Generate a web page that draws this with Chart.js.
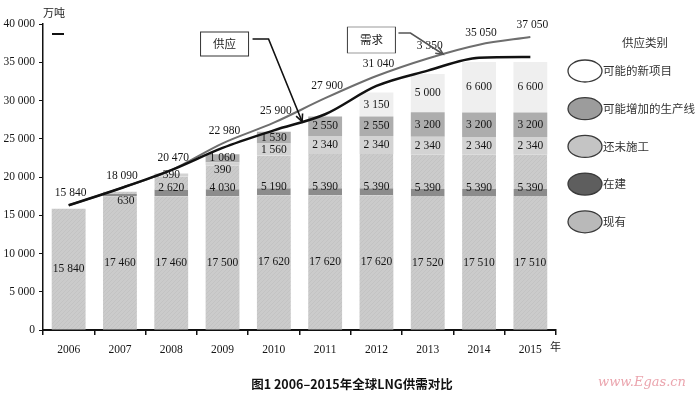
<!DOCTYPE html>
<html>
<head>
<meta charset="utf-8">
<script src="https://cdn.jsdelivr.net/npm/chart.js@4.4.0/dist/chart.umd.min.js"></script>
<style>
  html, body { margin: 0; padding: 0; background: #fff; }
  #contenedor { position: relative; width: 700px; height: 393px; }
</style>
</head>
<body>
<div id="contenedor"><canvas id="grafico" width="700" height="393"></canvas></div>
<script>
// datos (万吨)
const anios = ['2006', '2007', '2008', '2009', '2010', '2011', '2012', '2013', '2014', '2015'];
const existente = [15840, 17460, 17460, 17500, 17620, 17620, 17620, 17520, 17510, 17510];
const enConstruccion = [0, 630, 2620, 4030, 5190, 5390, 5390, 5390, 5390, 5390];
const sinIniciar = [0, 0, 390, 390, 1560, 2340, 2340, 2340, 2340, 2340];
const lineasPosibles = [0, 0, 0, 1060, 1530, 2550, 2550, 3200, 3200, 3200];
const proyectosNuevos = [0, 0, 0, 0, 0, 0, 3150, 5000, 6600, 6600];
const etiquetasTotal = ['15 840', '18 090', '20 470', '22 980', '25 900', '27 900', '31 040', '3 350', '35 050', '37 050'];
const oferta = [16300, 18500, 20900, 23800, 26100, 28200, 31900, 33900, 35600, 35700];
const demanda = [16300, 18500, 20900, 24400, 27100, 30300, 33200, 35500, 37300, 38300];
const nombresSerie = ['现有', '在建', '还未施工', '可能增加的生产线', '可能的新项目'];
const coloresLeyenda = ['#b9b9b9', '#5e5e5e', '#c4c4c4', '#9c9c9c', '#ffffff'];

const ctx = document.querySelector('#grafico').getContext('2d');
const serif = '"Liberation Serif", "DejaVu Serif", serif';
const cjk = '"Noto Sans CJK SC", sans-serif';

const conEspacios = v => String(v).replace(/\B(?=(\d{3})+(?!\d))/g, ' ');

function crearTrama(fondo, raya) {
    const c = document.createElement('canvas');
    c.width = 4; c.height = 4;
    const g = c.getContext('2d');
    g.fillStyle = fondo;
    g.fillRect(0, 0, 4, 4);
    g.fillStyle = raya;
    g.fillRect(0, 3, 1, 1); g.fillRect(1, 2, 1, 1); g.fillRect(2, 1, 1, 1); g.fillRect(3, 0, 1, 1);
    return ctx.createPattern(c, 'repeat');
}
const tramaGris = crearTrama('#cbcbcb', '#c3c3c3');

function dibujarEtiquetas(chart) {
    const c = chart.ctx;
    const y = chart.scales.y;
    c.save();
    c.font = '11.5px ' + serif;
    c.fillStyle = '#151515';
    c.textAlign = 'center';
    c.textBaseline = 'middle';
    anios.forEach((anio, j) => {
        let previo = -Infinity;
        for (let i = 4; i >= 0; i--) {
            const valor = chart.data.datasets[i].data[j];
            if (!valor) continue;
            const el = chart.getDatasetMeta(i).data[j];
            const arriba = Math.min(el.y, el.base);
            const abajo = Math.max(el.y, el.base);
            let py = (arriba + abajo) / 2;
            if (i === 1) py = (abajo - arriba >= 16) ? abajo - 8 : abajo + 5;
            py = Math.max(py, previo + 12);
            previo = py;
            c.fillText(conEspacios(valor), el.x + (i === 1 && abajo - arriba < 16 ? 6 : 0), py);
        }
        const x = chart.getDatasetMeta(0).data[j].x;
        c.fillText(etiquetasTotal[j], x + 2, y.getPixelForValue(demanda[j]) - 12);
    });
    c.restore();
}

function flecha(c, puntos, color, ancho) {
    c.save();
    c.strokeStyle = color;
    c.lineWidth = ancho;
    c.beginPath();
    c.moveTo(puntos[0][0], puntos[0][1]);
    for (let k = 1; k < puntos.length; k++) c.lineTo(puntos[k][0], puntos[k][1]);
    c.stroke();
    const [x1, y1] = puntos[puntos.length - 2];
    const [x2, y2] = puntos[puntos.length - 1];
    const ang = Math.atan2(y2 - y1, x2 - x1);
    c.beginPath();
    c.moveTo(x2 - 8 * Math.cos(ang - 0.45), y2 - 8 * Math.sin(ang - 0.45));
    c.lineTo(x2, y2);
    c.lineTo(x2 - 8 * Math.cos(ang + 0.45), y2 - 8 * Math.sin(ang + 0.45));
    c.stroke();
    c.restore();
}

const pluginEtiquetas = {
    id: 'etiquetas',
    beforeDatasetsDraw(chart) { chart.$hecho = false; },
    beforeDatasetDraw(chart, args) {
        if (chart.$hecho || args.meta.type !== 'line') return;
        chart.$hecho = true;
        dibujarEtiquetas(chart);
    }
};

const pluginDecoracion = {
    id: 'decoracion',
    afterDraw(chart) {
        const c = chart.ctx;
        const area = chart.chartArea;
        const xs = chart.scales.x;
        const ys = chart.scales.y;
        const paso = xs.getPixelForValue(1) - xs.getPixelForValue(0);
        c.save();

        // unidad y marca superior
        c.fillStyle = '#222';
        c.font = '11px ' + cjk;
        c.textAlign = 'left';
        c.textBaseline = 'middle';
        c.fillText('万吨', area.left, 13);
        c.fillText('年', area.right - 6, 347);
        c.strokeStyle = '#111';
        c.lineWidth = 2;
        c.beginPath(); c.moveTo(area.left + 9, 34); c.lineTo(area.left + 21, 34); c.stroke();

        // caja 供应
        const cx1 = xs.getPixelForValue(3) + 2;
        c.lineWidth = 1;
        c.strokeStyle = '#333';
        c.strokeRect(cx1 - 24, area.top + 8, 48, 24);
        c.textAlign = 'center';
        c.font = '11.5px ' + cjk;
        c.fillText('供应', cx1, area.top + 20);
        const fx = xs.getPixelForValue(4) + 0.55 * paso;
        const fy = ys.getPixelForValue(oferta[4] + 0.55 * (oferta[5] - oferta[4]));
        flecha(c, [[cx1 + 28, area.top + 15], [cx1 + 44, area.top + 15], [fx, fy]], '#111', 1.6);

        // caja 需求
        const cx2 = xs.getPixelForValue(6) - 5;
        c.strokeStyle = '#999';
        c.strokeRect(cx2 - 24, area.top + 3, 48, 26);
        c.strokeStyle = '#444';
        c.beginPath();
        c.moveTo(cx2 - 24, area.top + 3); c.lineTo(cx2 - 24, area.top + 29);
        c.moveTo(cx2 + 24, area.top + 3); c.lineTo(cx2 + 24, area.top + 29);
        c.stroke();
        c.fillText('需求', cx2, area.top + 16);
        const dx = xs.getPixelForValue(7) + 0.3 * paso;
        const dy = ys.getPixelForValue(demanda[7] + 0.3 * (demanda[8] - demanda[7]));
        flecha(c, [[cx2 + 27, area.top + 9], [cx2 + 39, area.top + 9], [dx, dy]], '#555', 1.6);

        // leyenda
        c.fillStyle = '#333';
        c.font = '11.5px ' + cjk;
        c.textAlign = 'center';
        c.fillText('供应类别', 645, 43);
        c.textAlign = 'left';
        for (let k = 0; k < 5; k++) {
            const i = 4 - k;
            const ly = 71 + k * 37.7;
            c.beginPath();
            c.ellipse(585, ly, 17, 11, 0, 0, Math.PI * 2);
            c.fillStyle = coloresLeyenda[i];
            c.fill();
            c.lineWidth = 1.3;
            c.strokeStyle = '#3a3a3a';
            c.stroke();
            c.fillStyle = '#333';
            c.fillText(nombresSerie[i], 603, ly);
        }

        // titulo y marca de agua
        c.fillStyle = '#111';
        c.textAlign = 'center';
        c.font = 'bold 12.5px ' + cjk;
        c.fillText('图1 2006–2015年全球LNG供需对比', 352, 384);
        c.fillStyle = '#eba5ae';
        c.font = 'italic 13px "DejaVu Serif", serif';
        c.textAlign = 'left';
        c.fillText('www.Egas.cn', 598, 383, 96);
        c.restore();
    }
};

const barra = (i, data, fondo, extra) => Object.assign({
    label: nombresSerie[i],
    data: data,
    backgroundColor: fondo,
    borderWidth: 0,
    barPercentage: 0.66,
    categoryPercentage: 1,
    order: 2
}, extra || {});

new Chart(ctx, {
    type: 'bar',
    data: {
        labels: anios,
        datasets: [
            barra(0, existente, tramaGris),
            barra(1, enConstruccion, tramaGris, {
                borderColor: '#8c8c8c',
                borderWidth: { top: 0, left: 0, right: 0, bottom: 7 },
                borderSkipped: false
            }),
            barra(2, sinIniciar, '#d3d3d3'),
            barra(3, lineasPosibles, '#adadad'),
            barra(4, proyectosNuevos, '#efefef'),
            {
                type: 'line', label: '需求', data: demanda, stack: 'demanda',
                borderColor: '#6e6e6e', borderWidth: 2, pointRadius: 0,
                cubicInterpolationMode: 'monotone', order: 1
            },
            {
                type: 'line', label: '供应', data: oferta, stack: 'oferta',
                borderColor: '#111', borderWidth: 2.5, pointRadius: 0,
                cubicInterpolationMode: 'monotone', order: 0
            }
        ]
    },
    options: {
        responsive: false,
        devicePixelRatio: 1,
        animation: false,
        events: [],
        layout: { padding: { top: 24, right: 144, bottom: 0, left: 0 } },
        plugins: { legend: { display: false }, tooltip: { enabled: false } },
        scales: {
            x: {
                stacked: true,
                grid: { drawOnChartArea: false, tickLength: 5, color: '#111', lineWidth: 1.5 },
                border: { color: '#111', width: 2 },
                ticks: { color: '#151515', font: { family: serif, size: 11.5 }, padding: 8 },
                afterFit: s => { s.height = 63; }
            },
            y: {
                stacked: true,
                min: 0,
                max: 40000,
                grid: { drawOnChartArea: false, tickLength: 4, color: '#111' },
                border: { color: '#111', width: 1.5 },
                ticks: {
                    stepSize: 5000,
                    color: '#151515',
                    font: { family: serif, size: 11.5 },
                    padding: 4,
                    callback: v => conEspacios(v)
                },
                afterFit: s => { s.width = 43; }
            }
        }
    },
    plugins: [pluginEtiquetas, pluginDecoracion]
});
</script>
</body>
</html>
